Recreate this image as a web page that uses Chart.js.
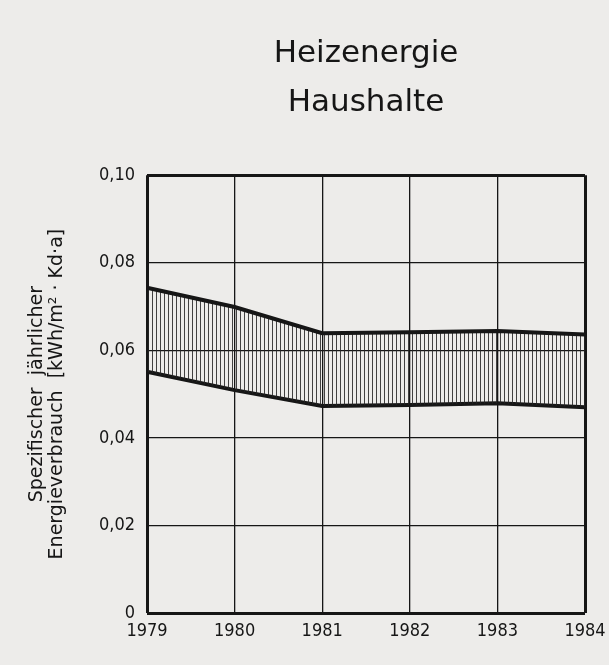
<!DOCTYPE html>
<html>
<head>
<meta charset="utf-8">
<script src="https://cdn.jsdelivr.net/npm/chart.js@4/dist/chart.umd.min.js"></script>
<style>
  html, body { margin: 0; padding: 0; background: #edecea; }
  #wrap { width: 609px; height: 665px; }
</style>
</head>
<body>
<div id="wrap"><canvas id="heizChart"></canvas></div>
<script>
// ─── Data ─────────────────────────────────────────────────────
const years      = ['1979', '1980', '1981', '1982', '1983', '1984'];
const upperBound = [0.0743, 0.0699, 0.0639, 0.0641, 0.0644, 0.0636];
const lowerBound = [0.0551, 0.0509, 0.0473, 0.0475, 0.0479, 0.0470];
const yTicks     = [0, 0.02, 0.04, 0.06, 0.08, 0.10];

const titleLines = ['Heizenergie', 'Haushalte'];
const yTitle     = ['Spezifischer  jährlicher', 'Energieverbrauch  [kWh/m² · Kd·a]'];

// ─── Vertical hatching for the band ───────────────────────────
function hatch() {
  const c = document.createElement('canvas');
  c.width = 4; c.height = 4;
  const g = c.getContext('2d');
  g.fillStyle = 'rgba(35,35,35,0.85)';
  g.fillRect(0, 0, 1, 4);
  return g.createPattern(c, 'repeat');
}

const ink  = '#161616';
const tickFont = { family: "'DejaVu Sans Condensed', 'DejaVu Sans', sans-serif", size: 18 };
const edgeWidth = (ctx, n) => (ctx.index === 0 || ctx.index === n) ? 3 : 1.3;

Chart.defaults.color = ink;

new Chart(document.getElementById('heizChart').getContext('2d'), {
  type: 'line',
  data: {
    labels: years,
    datasets: [
      {
        label: 'oben',
        data: upperBound,
        borderColor: ink, borderWidth: 4,
        pointRadius: 0, tension: 0,
        backgroundColor: hatch(),
        fill: '+1',
      },
      {
        label: 'unten',
        data: lowerBound,
        borderColor: ink, borderWidth: 4,
        pointRadius: 0, tension: 0,
        fill: false,
      },
    ],
  },
  options: {
    responsive: true,
    maintainAspectRatio: false,
    animation: false,
    layout: { padding: { left: 0, right: 24, bottom: 0, top: 0 } },
    plugins: {
      legend: { display: false },
      tooltip: { enabled: false },
      title: {
        display: true,
        fullSize: false,
        text: titleLines,
        color: ink,
        font: { family: "'DejaVu Sans', sans-serif", size: 31, weight: 'normal', lineHeight: 1.6 },
        padding: { top: 29, bottom: 47 },
      },
    },
    scales: {
      x: {
        offset: false,
        afterFit: s => { s.height = 52; s.paddingLeft = 0; s.paddingRight = 0; },
        grid: { color: ink, lineWidth: ctx => edgeWidth(ctx, years.length - 1), drawTicks: false },
        border: { display: false },
        ticks: { font: tickFont, padding: 8, maxRotation: 0, autoSkip: false },
      },
      y: {
        min: 0, max: 0.1,
        afterBuildTicks: s => { s.ticks = yTicks.map(v => ({ value: v })); },
        afterFit: s => { s.width = 147; },
        grid: { color: ink, lineWidth: ctx => edgeWidth(ctx, yTicks.length - 1), drawTicks: false },
        border: { display: false },
        ticks: {
          font: tickFont, padding: 12,
          callback: v => v === 0 ? '0' : v.toFixed(2).replace('.', ','),
        },
        title: {
          display: true,
          text: yTitle,
          color: ink,
          font: { family: "'DejaVu Sans', sans-serif", size: 19, lineHeight: 1.05 },
          padding: { top: 27, bottom: 0 },
        },
      },
    },
  },
});
</script>
</body>
</html>
